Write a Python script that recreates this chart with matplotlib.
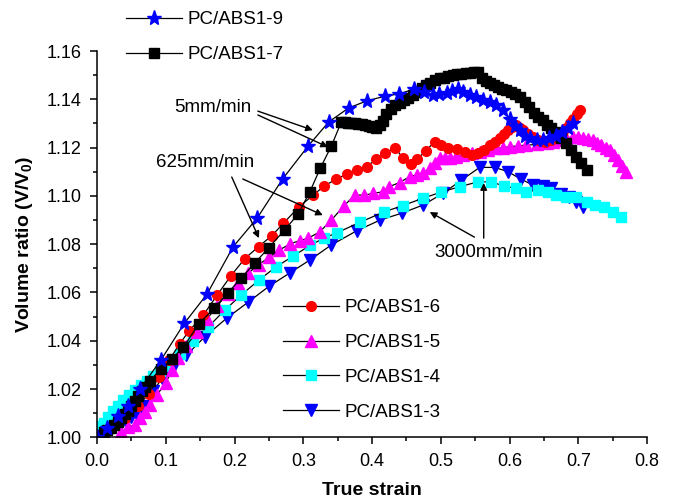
import matplotlib
matplotlib.use("Agg")
import matplotlib.pyplot as plt
from matplotlib.ticker import MultipleLocator, FormatStrFormatter

plt.rcParams['font.family'] = ['Liberation Sans', 'DejaVu Sans']
plt.rcParams['mathtext.fontset'] = 'custom'
plt.rcParams['mathtext.rm'] = 'Liberation Sans'
plt.rcParams['mathtext.bf'] = 'Liberation Sans:bold'

# PC/ABS1-9 (5mm/min)
s9_x = [0.0, 0.015, 0.03, 0.045, 0.0625, 0.093, 0.127, 0.160, 0.198, 0.233, 0.270, 0.307,
        0.337, 0.366, 0.392, 0.419, 0.439, 0.461, 0.475, 0.488, 0.498, 0.509, 0.517, 0.525,
        0.533, 0.542, 0.551, 0.561, 0.571, 0.581, 0.590, 0.600, 0.608, 0.615, 0.622, 0.630,
        0.640, 0.649, 0.658, 0.668, 0.677, 0.685, 0.692]
s9_y = [1.000, 1.004, 1.009, 1.013, 1.020, 1.032, 1.0472, 1.0593, 1.0789, 1.0908, 1.107, 1.1206,
        1.1306, 1.1364, 1.1393, 1.1413, 1.1422, 1.1442, 1.143, 1.1417, 1.142, 1.1426, 1.1435, 1.1442,
        1.143, 1.1417, 1.1408, 1.1397, 1.1387, 1.1376, 1.1356, 1.132, 1.129, 1.1272, 1.125, 1.124,
        1.1231, 1.123, 1.1239, 1.125, 1.1264, 1.128, 1.1302]

# PC/ABS1-7 (5mm/min)
s7_x = [0.0, 0.005, 0.01, 0.015, 0.02, 0.025, 0.03, 0.035, 0.04, 0.045, 0.05, 0.055, 0.06, 0.065,
        0.07, 0.077, 0.093, 0.109, 0.1254, 0.148, 0.170, 0.19, 0.21, 0.23, 0.25, 0.273, 0.2926,
        0.3096, 0.325, 0.341, 0.3555, 0.36, 0.365, 0.37, 0.375, 0.38, 0.385, 0.39, 0.395, 0.40,
        0.406, 0.411, 0.416, 0.421, 0.427, 0.434, 0.4404, 0.447, 0.453, 0.460, 0.466, 0.472, 0.479,
        0.485, 0.492, 0.4985, 0.505, 0.511, 0.518, 0.524, 0.530, 0.536, 0.542, 0.548, 0.554, 0.56,
        0.566, 0.571, 0.577, 0.583, 0.589, 0.5955, 0.602, 0.608, 0.615, 0.622, 0.629, 0.635, 0.641,
        0.648, 0.655, 0.661, 0.668, 0.675, 0.6826, 0.690, 0.697, 0.704, 0.712]
s7_y = [1.0, 1.001, 1.002, 1.003, 1.004, 1.005, 1.0065, 1.008, 1.0095, 1.011, 1.013, 1.015, 1.017,
        1.019, 1.021, 1.0233, 1.0283, 1.0326, 1.0372, 1.0469, 1.0534, 1.0597, 1.066, 1.0723, 1.0786,
        1.0859, 1.0925, 1.1017, 1.1116, 1.1207, 1.1307, 1.1305, 1.1302, 1.130, 1.130, 1.1298, 1.1296,
        1.1294, 1.129, 1.1285, 1.128, 1.1294, 1.131, 1.134, 1.136, 1.1375, 1.1383, 1.1395, 1.1405,
        1.1418, 1.1432, 1.1445, 1.1458, 1.1468, 1.1478, 1.1487, 1.149, 1.1495, 1.150, 1.1503, 1.1505,
        1.1508, 1.151, 1.1513, 1.1513, 1.149, 1.1475, 1.1466, 1.1458, 1.145, 1.1444, 1.1438, 1.143,
        1.142, 1.141, 1.139, 1.1369, 1.1345, 1.1328, 1.1314, 1.1295, 1.128, 1.1265, 1.124, 1.1217,
        1.119, 1.1162, 1.1135, 1.1107]

# PC/ABS1-6 (625mm/min)
s6_x = [0.0, 0.02, 0.04, 0.06, 0.075, 0.09, 0.105, 0.12, 0.134, 0.1545, 0.175, 0.195, 0.215, 0.235,
        0.254, 0.271, 0.294, 0.3145, 0.330, 0.347, 0.363, 0.3775, 0.392, 0.4055, 0.4196, 0.434,
        0.445, 0.4564, 0.4655, 0.478, 0.4913, 0.501, 0.5106, 0.523, 0.535, 0.545, 0.554, 0.563,
        0.571, 0.579, 0.586, 0.592, 0.598, 0.604, 0.610, 0.615, 0.620, 0.627, 0.634, 0.642, 0.651,
        0.660, 0.668, 0.676, 0.6826, 0.688, 0.692, 0.698, 0.703]
s6_y = [1.0, 1.004, 1.008, 1.013, 1.018, 1.025, 1.032, 1.0386, 1.0441, 1.0506, 1.059, 1.067, 1.074,
        1.079, 1.0834, 1.0886, 1.0955, 1.1003, 1.104, 1.1068, 1.109, 1.1107, 1.112, 1.1151, 1.1178,
        1.120, 1.1155, 1.113, 1.1151, 1.1187, 1.1224, 1.121, 1.120, 1.1193, 1.118, 1.117, 1.1176,
        1.119, 1.121, 1.1225, 1.1238, 1.1255, 1.1272, 1.1285, 1.1293, 1.128, 1.1272, 1.1258, 1.1245,
        1.123, 1.1224, 1.123, 1.1238, 1.126, 1.128, 1.130, 1.132, 1.134, 1.1355]

# PC/ABS1-5 (625mm/min)
s5_x = [0.035, 0.0455, 0.055, 0.0625, 0.070, 0.077, 0.0868, 0.100, 0.109, 0.118, 0.13, 0.145,
        0.16, 0.175, 0.19, 0.205, 0.22, 0.235, 0.25, 0.265, 0.28, 0.295, 0.307, 0.324, 0.341,
        0.359, 0.375, 0.388, 0.4016, 0.416, 0.425, 0.44, 0.455, 0.465, 0.474, 0.484, 0.491, 0.4985,
        0.506, 0.513, 0.522, 0.532, 0.545, 0.557, 0.569, 0.581, 0.590, 0.600, 0.612, 0.6245, 0.64,
        0.654, 0.663, 0.6725, 0.682, 0.692, 0.700, 0.707, 0.714, 0.721, 0.727, 0.7335, 0.74, 0.7456,
        0.752, 0.758, 0.764, 0.770]
s5_y = [1.002, 1.0044, 1.005, 1.008, 1.0106, 1.0134, 1.0175, 1.0224, 1.028, 1.033, 1.038, 1.0435,
        1.049, 1.0545, 1.0595, 1.064, 1.068, 1.0715, 1.0745, 1.0775, 1.080, 1.0815, 1.0824, 1.0851,
        1.090, 1.0958, 1.1003, 1.1003, 1.101, 1.1017, 1.1038, 1.1055, 1.108, 1.1087, 1.1093, 1.1115,
        1.1135, 1.1155, 1.1155, 1.1155, 1.1162, 1.1169, 1.1176, 1.1183, 1.119, 1.1197, 1.120, 1.1203,
        1.1207, 1.121, 1.1213, 1.1217, 1.1223, 1.123, 1.1238, 1.1245, 1.1242, 1.1238, 1.1234, 1.123,
        1.122, 1.121, 1.120, 1.119, 1.117, 1.1148, 1.1125, 1.110]

# PC/ABS1-4 (3000mm/min)
s4_x = [0.0, 0.005, 0.01, 0.016, 0.0237, 0.03, 0.038, 0.046, 0.055, 0.064, 0.073, 0.082, 0.091,
        0.10, 0.12, 0.14, 0.162, 0.186, 0.21, 0.235, 0.26, 0.285, 0.31, 0.33, 0.349, 0.382, 0.417,
        0.445, 0.474, 0.50, 0.5276, 0.554, 0.5736, 0.5926, 0.61, 0.6245, 0.6414, 0.656, 0.668,
        0.6827, 0.697, 0.712, 0.7238, 0.738, 0.7505, 0.7626]
s4_y = [1.003, 1.0045, 1.006, 1.0085, 1.011, 1.013, 1.0155, 1.0175, 1.0195, 1.0215, 1.0235, 1.0255,
        1.0275, 1.0295, 1.0345, 1.040, 1.0458, 1.0527, 1.059, 1.065, 1.0705, 1.075, 1.0795, 1.0825,
        1.0847, 1.089, 1.0933, 1.096, 1.099, 1.1015, 1.1038, 1.1058, 1.1058, 1.104, 1.1031, 1.1017,
        1.1024, 1.1017, 1.1003, 1.0996, 1.0996, 1.0976, 1.0962, 1.0955, 1.0934, 1.0913]

# PC/ABS1-3 (3000mm/min)
s3_x = [0.0, 0.01, 0.02, 0.03, 0.04, 0.05, 0.0577, 0.07, 0.082, 0.094, 0.111, 0.130, 0.157, 0.1885,
        0.22, 0.25, 0.28, 0.31, 0.34, 0.3775, 0.412, 0.443, 0.4743, 0.503, 0.530, 0.5567, 0.5785,
        0.598, 0.616, 0.634, 0.649, 0.661, 0.675, 0.687, 0.697, 0.707]
s3_y = [1.0, 1.002, 1.004, 1.0055, 1.007, 1.0085, 1.0092, 1.013, 1.019, 1.0244, 1.0286, 1.034,
        1.0417, 1.0493, 1.056, 1.0625, 1.068, 1.0735, 1.0795, 1.0855, 1.090, 1.0928, 1.0962, 1.101,
        1.1065, 1.1118, 1.1118, 1.110, 1.107, 1.1045, 1.104, 1.1031, 1.1007, 1.0994, 1.0976, 1.0955]

fig = plt.figure(figsize=(6.75, 5), dpi=100)
ax = fig.add_axes([97 / 675, 1 - 437.3 / 500, 550 / 675, 386.3 / 500])

lw = 0.9
l3, = ax.plot(s3_x, s3_y, '-', color='black', lw=lw, marker='v', ms=8, mfc='blue', mec='blue', label='PC/ABS1-3')
l4, = ax.plot(s4_x, s4_y, '-', color='black', lw=lw, marker='s', ms=6.5, mfc='cyan', mec='cyan', label='PC/ABS1-4')
l5, = ax.plot(s5_x, s5_y, '-', color='black', lw=lw, marker='^', ms=8, mfc='magenta', mec='magenta', label='PC/ABS1-5')
l6, = ax.plot(s6_x, s6_y, '-', color='black', lw=lw, marker='o', ms=7, mfc='red', mec='red', label='PC/ABS1-6')
l7, = ax.plot(s7_x, s7_y, '-', color='black', lw=lw, marker='s', ms=7, mfc='black', mec='black', label='PC/ABS1-7')
l9, = ax.plot(s9_x, s9_y, '-', color='black', lw=lw, marker='*', ms=11, mfc='blue', mec='blue', label='PC/ABS1-9')

ax.set_xlim(0, 0.8)
ax.set_ylim(1.0, 1.16)
ax.spines['top'].set_visible(False)
ax.spines['right'].set_visible(False)
for s in ['left', 'bottom']:
    ax.spines[s].set_linewidth(1.1)
ax.xaxis.set_major_locator(MultipleLocator(0.1))
ax.xaxis.set_minor_locator(MultipleLocator(0.05))
ax.yaxis.set_major_locator(MultipleLocator(0.02))
ax.yaxis.set_minor_locator(MultipleLocator(0.01))
ax.xaxis.set_major_formatter(FormatStrFormatter('%.1f'))
ax.yaxis.set_major_formatter(FormatStrFormatter('%.2f'))
ax.tick_params(which='major', direction='out', length=5, width=1.1, labelsize=13, pad=6)
ax.tick_params(which='minor', direction='out', length=3, width=1.1)

ax.set_xlabel('True strain', fontsize=14, fontweight='bold', labelpad=9)
ax.set_ylabel(r'Volume ratio (V/V$_\mathbf{0}$)', fontsize=14, fontweight='bold', labelpad=8)

legkw = dict(loc='upper left', bbox_transform=fig.transFigure, frameon=False, fontsize=13.5,
             handlelength=3.0, handletextpad=0.3, labelspacing=0.95, borderpad=0,
             borderaxespad=0, numpoints=1)
leg1 = ax.legend(handles=[l9, l7], bbox_to_anchor=(126 / 675, 1 - 11 / 500), **legkw)
ax.add_artist(leg1)
ax.legend(handles=[l6, l5, l4, l3], bbox_to_anchor=(283 / 675, 1 - 299 / 500), **legkw)

arrow = dict(arrowstyle='-|>', color='black', lw=1, mutation_scale=10, shrinkA=0, shrinkB=0)
ax.text(0.1686, 1.1368, '5mm/min', fontsize=13.5, ha='center', va='center')
ax.annotate('', xy=(0.314, 1.1272), xytext=(0.234, 1.1351), arrowprops=arrow)
ax.annotate('', xy=(0.336, 1.1202), xytext=(0.234, 1.1335), arrowprops=arrow)
ax.text(0.157, 1.114, '625mm/min', fontsize=13.5, ha='center', va='center')
ax.annotate('', xy=(0.2355, 1.0825), xytext=(0.196, 1.1078), arrowprops=arrow)
ax.annotate('', xy=(0.3285, 1.092), xytext=(0.212, 1.107), arrowprops=arrow)
ax.text(0.570, 1.0767, '3000mm/min', fontsize=13.5, ha='center', va='center')
ax.annotate('', xy=(0.484, 1.0933), xytext=(0.549, 1.0829), arrowprops=arrow)
ax.annotate('', xy=(0.5625, 1.1053), xytext=(0.5625, 1.0825), arrowprops=arrow)

fig.savefig('out.png', dpi=100)
